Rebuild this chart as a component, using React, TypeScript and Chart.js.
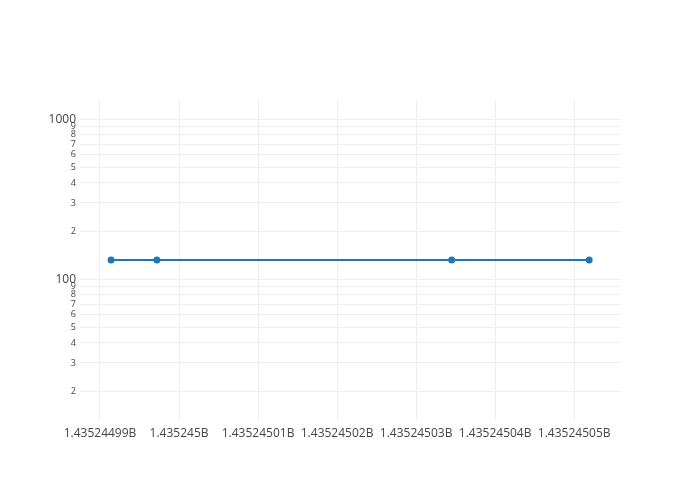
import React, { useEffect, useRef } from "react";
import { Chart, registerables } from "chart.js";

Chart.register(...registerables);

const xValues = [1435244991.4, 1435244997.2, 1435245034.5, 1435245051.9];
const yValues = [132, 132, 132, 132];

const xTickValues = [1435244990, 1435245000, 1435245010, 1435245020, 1435245030, 1435245040, 1435245050];
const xTickLabels = ["1.43524499B", "1.435245B", "1.43524501B", "1.43524502B", "1.43524503B", "1.43524504B", "1.43524505B"];

const yTickValues = [20, 30, 40, 50, 60, 70, 80, 90, 100, 200, 300, 400, 500, 600, 700, 800, 900, 1000];
const yTickLabels = ["2", "3", "4", "5", "6", "7", "8", "9", "100", "2", "3", "4", "5", "6", "7", "8", "9", "1000"];
const yMajor = [100, 1000];

const xMin = 1435244987.47;
const xMax = 1435245055.8;
const yMin = 13.2;
const yMax = 1320;

const FONT = "'Open Sans', verdana, arial, sans-serif";

export default function App() {
  const ref = useRef<HTMLCanvasElement | null>(null);

  useEffect(() => {
    document.body.style.margin = "0";
    const canvas = ref.current;
    if (!canvas) return;
    const chart = new Chart(canvas, {
      type: "line",
      data: {
        datasets: [
          {
            data: xValues.map((x, i) => ({ x, y: yValues[i] })),
            borderColor: "#1f77b4",
            backgroundColor: "#1f77b4",
            borderWidth: 2,
            pointRadius: 3.5,
            pointHoverRadius: 3.5,
            pointBorderWidth: 0,
            fill: false,
            tension: 0,
          },
        ],
      },
      options: {
        responsive: false,
        animation: false,
        layout: { padding: { top: 100, right: 80, left: 0, bottom: 0 } },
        plugins: { legend: { display: false }, tooltip: { enabled: false } },
        scales: {
          x: {
            type: "linear",
            min: xMin,
            max: xMax,
            afterFit: (scale: any) => {
              scale.height = 80;
            },
            afterBuildTicks: (scale: any) => {
              scale.ticks = xTickValues.map((v) => ({ value: v }));
            },
            border: { display: false },
            grid: { color: "#eeeeee", lineWidth: 1, drawTicks: false },
            ticks: {
              autoSkip: false,
              maxRotation: 0,
              padding: 6,
              color: "#444444",
              font: { family: FONT, size: 12 },
              callback: (_v: any, i: number) => xTickLabels[i],
            },
          },
          y: {
            type: "logarithmic",
            min: yMin,
            max: yMax,
            afterFit: (scale: any) => {
              scale.width = 80;
            },
            afterBuildTicks: (scale: any) => {
              scale.ticks = yTickValues.map((v) => ({ value: v }));
            },
            border: { display: false },
            grid: { color: "#eeeeee", lineWidth: 1, drawTicks: false },
            ticks: {
              autoSkip: false,
              padding: 4,
              color: "#444444",
              font: (ctx: any) => ({
                family: FONT,
                size: ctx.tick && yMajor.includes(ctx.tick.value) ? 12 : 9,
              }),
              callback: (_v: any, i: number) => yTickLabels[i],
            },
          },
        },
      },
    } as any);
    return () => chart.destroy();
  }, []);

  return (
    <div style={{ width: 700, height: 500, background: "#fff" }}>
      <canvas ref={ref} width={700} height={500} />
    </div>
  );
}
